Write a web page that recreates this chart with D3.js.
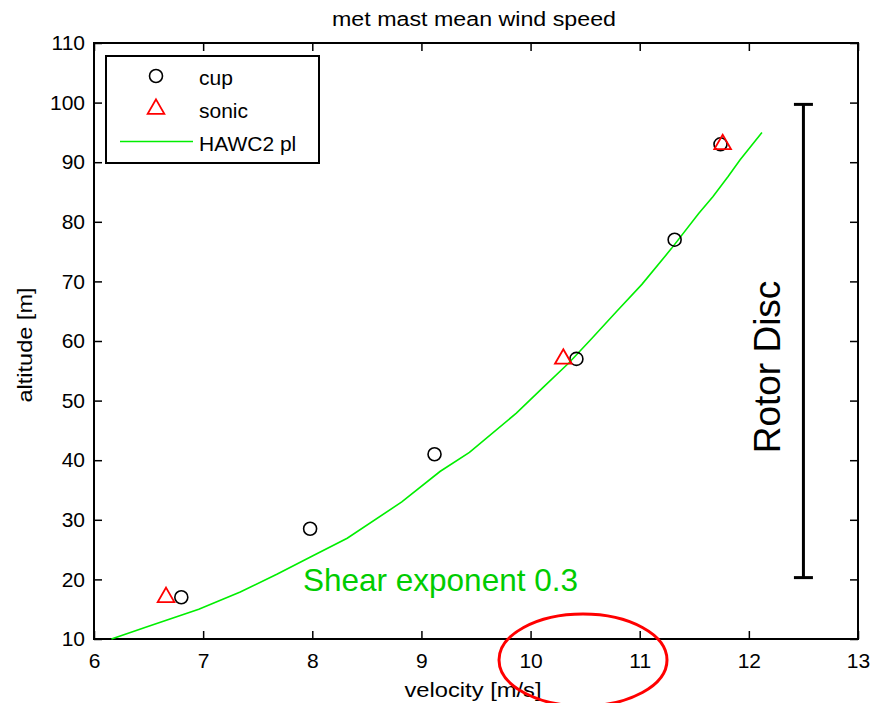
<!DOCTYPE html>
<html>
<head>
<meta charset="utf-8">
<script src="https://cdn.jsdelivr.net/npm/d3@7"></script>
<style>
  html, body { margin: 0; padding: 0; background: #fff; }
  svg { display: block; font-family: "Liberation Sans", Arial, sans-serif; }
</style>
</head>
<body>
<svg id="chart" width="875" height="703"></svg>
<script>
// ---- data ----
const cupVelocity   = [6.80, 7.98, 9.12, 10.42, 11.32, 11.74];
const cupAltitude   = [17, 28.5, 41, 57, 77, 93];
const sonicVelocity = [6.66, 10.30, 11.76];
const sonicAltitude = [17, 57, 93];
const hawcVelocity  = [6.16, 6.48, 6.96, 7.34, 7.68, 8.01, 8.32, 8.82, 9.17, 9.44, 9.87, 10.12, 10.35, 10.55, 10.79, 11.02, 11.29, 11.54, 11.67, 11.81, 11.92, 12.12];
const hawcAltitude  = [10, 12, 15, 17.9, 20.9, 24, 26.9, 33, 38.1, 41.3, 47.9, 52.3, 56.3, 60.2, 65, 69.5, 75.5, 81.4, 84.2, 87.6, 90.4, 95];
const xTicks = [6, 7, 8, 9, 10, 11, 12, 13];
const yTicks = [10, 20, 30, 40, 50, 60, 70, 80, 90, 100, 110];
const rotorVelocity = 12.5;
const rotorRange = [20.3, 99.7];
const legendLabels = ["cup", "sonic", "HAWC2 pl"];

// ---- layout ----
const svg = d3.select("#chart");
const L = 94, R = 858, T = 43, B = 639;
const x = d3.scaleLinear().domain([6, 13]).range([L, R]);
const y = d3.scaleLinear().domain([10, 110]).range([B, T]);
const tickLen = 8;
const fontTick = 21;

// axes
const gx = svg.append("g").attr("transform", `translate(0,${B})`)
  .call(d3.axisBottom(x).tickValues(xTicks).tickFormat(d3.format("d"))
    .tickSizeInner(-tickLen).tickSizeOuter(0).tickPadding(14));
const gy = svg.append("g").attr("transform", `translate(${L},0)`)
  .call(d3.axisLeft(y).tickValues(yTicks).tickFormat(d3.format("d"))
    .tickSizeInner(-tickLen).tickSizeOuter(0).tickPadding(9));
const gt = svg.append("g").attr("transform", `translate(0,${T})`)
  .call(d3.axisTop(x).tickValues(xTicks).tickFormat("")
    .tickSizeInner(-tickLen).tickSizeOuter(0));
const gr = svg.append("g").attr("transform", `translate(${R},0)`)
  .call(d3.axisRight(y).tickValues(yTicks).tickFormat("")
    .tickSizeInner(-tickLen).tickSizeOuter(0));
[gx, gy, gt, gr].forEach(g => {
  g.select(".domain").remove();
  g.selectAll(".tick line").attr("stroke", "#000").attr("stroke-width", 1.5);
  g.selectAll(".tick text").attr("fill", "#000")
    .style("font-family", '"Liberation Sans", Arial, sans-serif')
    .style("font-size", fontTick + "px");
});

// frame
svg.append("rect").attr("x", L).attr("y", T).attr("width", R - L).attr("height", B - T)
  .attr("fill", "none").attr("stroke", "#000").attr("stroke-width", 2);

// HAWC2 power-law line
const lineData = hawcVelocity.map((v, i) => [v, hawcAltitude[i]]);
svg.append("path").datum(lineData)
  .attr("fill", "none").attr("stroke", "#00ee00").attr("stroke-width", 1.6)
  .attr("d", d3.line().x(d => x(d[0])).y(d => y(d[1])));

// cup markers
svg.append("g").selectAll("circle").data(cupVelocity.map((v, i) => [v, cupAltitude[i]]))
  .join("circle")
  .attr("cx", d => x(d[0])).attr("cy", d => y(d[1])).attr("r", 6.5)
  .attr("fill", "none").attr("stroke", "#000").attr("stroke-width", 1.6);

// sonic markers
const tri = d3.symbol().type(d3.symbolTriangle).size(120);
svg.append("g").selectAll("path").data(sonicVelocity.map((v, i) => [v, sonicAltitude[i]]))
  .join("path")
  .attr("transform", d => `translate(${x(d[0])},${y(d[1])})`)
  .attr("d", tri)
  .attr("fill", "none").attr("stroke", "#ff0000").attr("stroke-width", 1.8);

// Rotor disc bar
const rx = x(rotorVelocity);
const capW = 9.5;
const rotor = svg.append("g").attr("stroke", "#000").attr("stroke-width", 3);
rotor.append("line").attr("x1", rx).attr("x2", rx).attr("y1", y(rotorRange[1])).attr("y2", y(rotorRange[0]));
rotor.append("line").attr("x1", rx - capW).attr("x2", rx + capW).attr("y1", y(rotorRange[1])).attr("y2", y(rotorRange[1]));
rotor.append("line").attr("x1", rx - capW).attr("x2", rx + capW).attr("y1", y(rotorRange[0])).attr("y2", y(rotorRange[0]));
svg.append("text")
  .attr("transform", "translate(780,367) rotate(-90)")
  .attr("text-anchor", "middle").attr("font-size", 37).attr("fill", "#000")
  .text("Rotor Disc");

// Shear exponent annotation
svg.append("text").attr("x", 303).attr("y", 591)
  .attr("font-size", 31.5).attr("fill", "#00cc00")
  .text("Shear exponent 0.3");

// Title and axis labels
svg.append("text").attr("x", 474).attr("y", 26).attr("text-anchor", "middle")
  .attr("font-size", 20).attr("textLength", 284).attr("lengthAdjust", "spacingAndGlyphs")
  .text("met mast mean wind speed");
svg.append("text").attr("x", 473).attr("y", 697).attr("text-anchor", "middle")
  .attr("font-size", 21).attr("textLength", 137).attr("lengthAdjust", "spacingAndGlyphs")
  .text("velocity [m/s]");
svg.append("text").attr("transform", "translate(32,345) rotate(-90)").attr("text-anchor", "middle")
  .attr("font-size", 21).attr("textLength", 115).attr("lengthAdjust", "spacingAndGlyphs")
  .text("altitude [m]");

// Legend
const lg = svg.append("g");
lg.append("rect").attr("x", 106).attr("y", 56).attr("width", 213).attr("height", 107)
  .attr("fill", "#fff").attr("stroke", "#000").attr("stroke-width", 2);
lg.append("circle").attr("cx", 156).attr("cy", 76).attr("r", 6.5)
  .attr("fill", "none").attr("stroke", "#000").attr("stroke-width", 1.6);
lg.append("path").attr("transform", "translate(156,109)").attr("d", tri)
  .attr("fill", "none").attr("stroke", "#ff0000").attr("stroke-width", 1.8);
lg.append("line").attr("x1", 120).attr("x2", 193).attr("y1", 141.5).attr("y2", 141.5)
  .attr("stroke", "#00ee00").attr("stroke-width", 1.6);
lg.selectAll("text.lab").data(legendLabels).join("text").attr("class", "lab")
  .attr("x", 199).attr("y", (d, i) => 85 + i * 33)
  .attr("font-size", 21).attr("fill", "#000")
  .text(d => d);

// Red hand-drawn ellipse annotation
svg.append("ellipse").attr("cx", 583).attr("cy", 660).attr("rx", 84).attr("ry", 46)
  .attr("fill", "none").attr("stroke", "#ff0000").attr("stroke-width", 3);
</script>
</body>
</html>
